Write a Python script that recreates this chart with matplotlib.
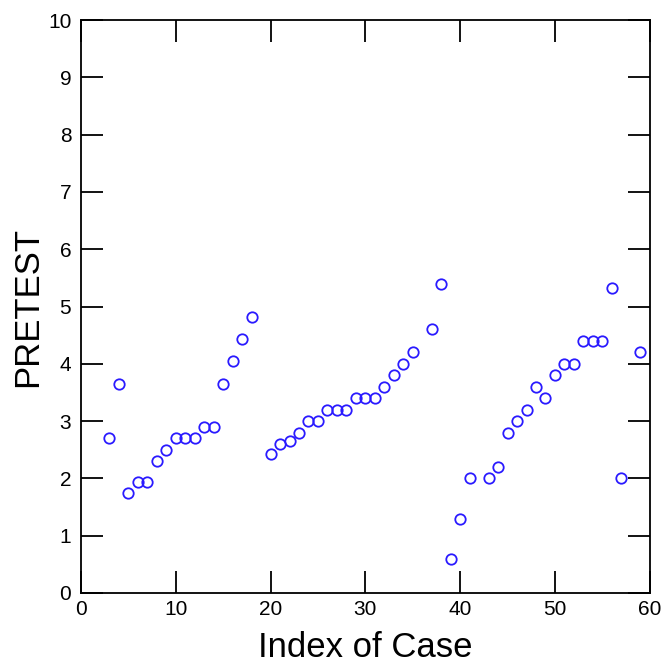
import matplotlib.pyplot as plt

# case index and PRETEST value
case = [3, 4, 5, 6, 7, 8, 9, 10, 11, 12, 13, 14, 15, 16, 17, 18,
        20, 21, 22, 23, 24, 25, 26, 27, 28, 29, 30, 31, 32, 33, 34, 35, 37, 38,
        39, 40, 41, 43, 44, 45, 46, 47, 48, 49, 50, 51, 52, 53, 54, 55, 56, 57, 59]
pretest = [2.7, 3.65, 1.75, 1.93, 1.93, 2.3, 2.5, 2.7, 2.7, 2.7, 2.9, 2.9, 3.65, 4.05, 4.43, 4.82,
           2.42, 2.6, 2.65, 2.8, 3.0, 3.0, 3.2, 3.2, 3.2, 3.4, 3.4, 3.4, 3.6, 3.8, 4.0, 4.2, 4.6, 5.4,
           0.6, 1.3, 2.0, 2.0, 2.2, 2.8, 3.0, 3.2, 3.6, 3.4, 3.8, 4.0, 4.0, 4.4, 4.4, 4.4, 5.33, 2.0, 4.2]

xticks = [0, 10, 20, 30, 40, 50, 60]
yticks = list(range(0, 11))

plt.rcParams['font.family'] = ['Liberation Sans', 'DejaVu Sans']

fig = plt.figure(figsize=(6.61, 6.68), dpi=100)
ax = fig.add_axes([0.1225, 0.1123, 0.8605, 0.8577])

ax.plot(case, pretest, linestyle='none', marker='o', markersize=7.5,
        markerfacecolor='none', markeredgecolor='#2a1aff', markeredgewidth=1.3)

ax.set_xlim(0, 60)
ax.set_ylim(0, 10)
ax.set_xticks(xticks)
ax.set_yticks(yticks)
ax.tick_params(direction='in', length=16, width=1.3, top=True, right=True,
               labelsize=15)
ax.tick_params(axis='y', pad=7)
ax.tick_params(axis='x', pad=5)
for s in ax.spines.values():
    s.set_linewidth(1.3)

ax.set_xlabel('Index of Case', fontsize=25, labelpad=9)
ax.set_ylabel('PRETEST', fontsize=25, labelpad=3)

fig.savefig('out.png', dpi=100)
